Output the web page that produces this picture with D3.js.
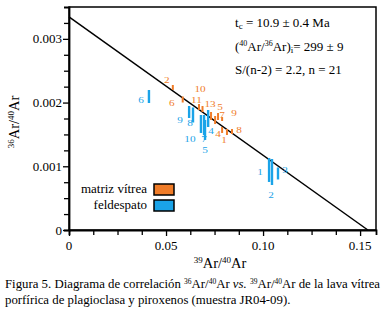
<!DOCTYPE html>
<html>
<head>
<meta charset="utf-8">
<script src="https://cdn.jsdelivr.net/npm/d3@7"></script>
<style>
  body { margin: 0; background: #fff; }
  svg text { font-family: "Liberation Serif", "Times New Roman", serif; }
</style>
</head>
<body>
<div id="chart"></div>
<script>
// Feldespato (blue), labels 1..10
const feldLabels = ['1', '2', '3', '4', '5', '6', '7', '8', '9', '10'];
const feldX = [0.1031, 0.1046, 0.1077, 0.0717, 0.0701, 0.0412, 0.0696, 0.0639, 0.0619, 0.0680];
const feldY = [0.000942, 0.000910, 0.000887, 0.001750, 0.001570, 0.002095, 0.001648, 0.001805, 0.001852, 0.001664];
const feldErr = [0.000188, 0.000204, 0.000094, 0.000133, 0.000157, 0.000102, 0.000157, 0.000118, 0.000094, 0.000141];

// Matriz vitrea (orange)
const matLabels = ['1', '2', '4', '5', '6', '7', '8', '9', '10', '11', '13'];
const matX = [0.0814, 0.0535, 0.0789, 0.0768, 0.0586, 0.0753, 0.0840, 0.0789, 0.0670, 0.0688, 0.0732];
const matY = [0.001538, 0.002237, 0.001570, 0.001781, 0.002048, 0.001726, 0.001546, 0.001742, 0.001930, 0.001899, 0.001789];
const matErr = [0.000047, 0.000039, 0.000047, 0.000055, 0.000047, 0.000063, 0.000039, 0.000031, 0.000047, 0.000047, 0.000063];

// isochron fit
const interceptY = 1 / 299;
const interceptX = 0.1540;

const xTicks = [0, 0.05, 0.10, 0.15];
const yTicks = [0, 0.001, 0.002, 0.003];

// label placement (pixels, relative to each bar centre)
const feldLabelPos = [[-9, 5], [-1, 26], [7, 0], [3, 15], [0, 23], [-8, 6], [0, 17], [-3, 11], [-9, 11], [-11, 18]];
const matLabelPos = [[-3, 11], [-6, -4], [-4, 7], [2, -7], [-11, 6], [7, -2], [7, 2], [12, -3], [1, -15], [-6, -6], [-1, -9]];

const orange = '#f07c28';
const blue = '#1aa3e8';

const width = 391, height = 316;
const margin = { top: 7, right: 15, bottom: 86, left: 69 };

const svg = d3.select('#chart').append('svg')
    .attr('width', width)
    .attr('height', height);

const x = d3.scaleLinear()
    .domain([0, 0.1582])
    .range([margin.left, width - margin.right]);

const y = d3.scaleLinear()
    .domain([0, 0.0035])
    .range([height - margin.bottom, margin.top]);

// frame
svg.append('rect')
    .attr('x', x(0))
    .attr('y', y(0.0035))
    .attr('width', x(0.1582) - x(0))
    .attr('height', y(0) - y(0.0035))
    .attr('fill', 'none')
    .attr('stroke', '#000')
    .attr('stroke-width', 1.5);

// axes
const xAxis = svg.append('g')
    .attr('transform', `translate(0,${y(0)})`)
    .call(d3.axisBottom(x)
        .tickValues(d3.range(0, 0.158, 0.0125))
        .tickSize(5)
        .tickFormat(''));
xAxis.selectAll('.tick line')
    .attr('stroke-width', 1.3)
    .attr('y2', (d, i) => i % 4 === 0 ? 6 : 5);
xAxis.select('.domain').attr('stroke-width', 1.8);

const yAxis = svg.append('g')
    .attr('transform', `translate(${x(0)},0)`)
    .call(d3.axisLeft(y)
        .tickValues(d3.range(0, 0.0035, 0.00025))
        .tickSize(5)
        .tickFormat(''));
yAxis.selectAll('.tick line')
    .attr('stroke-width', 1.3)
    .attr('x2', (d, i) => i % 4 === 0 ? -6 : -5);
yAxis.select('.domain').attr('stroke-width', 1.8);

svg.append('g').selectAll('text')
    .data(xTicks)
    .enter().append('text')
    .attr('x', d => x(d))
    .attr('y', y(0) + 20)
    .attr('text-anchor', 'middle')
    .attr('font-size', 13)
    .text(d => d === 0 ? '0' : d.toFixed(2));

svg.append('g').selectAll('text')
    .data(yTicks)
    .enter().append('text')
    .attr('x', x(0) - 7)
    .attr('y', d => y(d) + 4.5)
    .attr('text-anchor', 'end')
    .attr('font-size', 13)
    .text(d => d === 0 ? '0' : d.toFixed(3));

// axis titles
const xTitle = svg.append('text')
    .attr('x', 220)
    .attr('y', 268)
    .attr('text-anchor', 'middle')
    .attr('font-size', 14.5);
xTitle.append('tspan').attr('font-size', 9).attr('dy', -5).text('39');
xTitle.append('tspan').attr('dy', 5).text('Ar/');
xTitle.append('tspan').attr('font-size', 9).attr('dy', -5).text('40');
xTitle.append('tspan').attr('dy', 5).text('Ar');

const yTitle = svg.append('text')
    .attr('transform', 'translate(19,122) rotate(-90)')
    .attr('text-anchor', 'middle')
    .attr('font-size', 14.5);
yTitle.append('tspan').attr('font-size', 9).attr('dy', -5).text('36');
yTitle.append('tspan').attr('dy', 5).text('Ar/');
yTitle.append('tspan').attr('font-size', 9).attr('dy', -5).text('40');
yTitle.append('tspan').attr('dy', 5).text('Ar');

// isochron line
svg.append('line')
    .attr('x1', x(0))
    .attr('y1', y(interceptY))
    .attr('x2', x(interceptX))
    .attr('y2', y(0))
    .attr('stroke', '#000')
    .attr('stroke-width', 1.5);

// error bars + labels
function drawSeries(xs, ys, errs, labels, pos, color, sw) {
    const g = svg.append('g');
    const data = xs.map((v, i) => ({ x: v, y: ys[i], e: errs[i], label: labels[i], pos: pos[i] }));
    g.selectAll('line')
        .data(data)
        .enter().append('line')
        .attr('x1', d => x(d.x))
        .attr('x2', d => x(d.x))
        .attr('y1', d => y(d.y - d.e))
        .attr('y2', d => y(d.y + d.e))
        .attr('stroke', color)
        .attr('stroke-width', sw);
    g.selectAll('text')
        .data(data)
        .enter().append('text')
        .attr('transform', d => `translate(${x(d.x) + d.pos[0]},${y(d.y) + d.pos[1]}) scale(1.25,1)`)
        .attr('text-anchor', 'middle')
        .attr('font-size', 9)
        .attr('fill', color)
        .text(d => d.label);
}
drawSeries(feldX, feldY, feldErr, feldLabels, feldLabelPos, blue, 2.4);
drawSeries(matX, matY, matErr, matLabels, matLabelPos, orange, 2);

// results box
const info = svg.append('g').attr('font-size', 13);
const l1 = info.append('text').attr('x', 235).attr('y', 27);
l1.append('tspan').text('t');
l1.append('tspan').attr('font-size', 9).attr('dy', 2).text('c');
l1.append('tspan').attr('dy', -2).text(' = 10.9 \u00b1 0.4 Ma');
const l2 = info.append('text').attr('x', 235).attr('y', 51);
l2.append('tspan').text('(');
l2.append('tspan').attr('font-size', 8).attr('dy', -5).text('40');
l2.append('tspan').attr('dy', 5).text('Ar/');
l2.append('tspan').attr('font-size', 8).attr('dy', -5).text('36');
l2.append('tspan').attr('dy', 5).text('Ar)');
l2.append('tspan').attr('font-size', 9).attr('dy', 2).text('i');
l2.append('tspan').attr('dy', -2).text('= 299 \u00b1 9');
info.append('text').attr('x', 235).attr('y', 74).text('S/(n-2) = 2.2, n = 21');

// legend
const legend = svg.append('g').attr('font-size', 13);
[['matriz v\u00edtrea', orange], ['feldespato', blue]].forEach(([name, c], i) => {
    legend.append('text')
        .attr('x', 147)
        .attr('y', 193 + i * 16)
        .attr('text-anchor', 'end')
        .text(name);
    legend.append('rect')
        .attr('x', 154)
        .attr('y', 184 + i * 16)
        .attr('width', 20)
        .attr('height', 11)
        .attr('fill', c)
        .attr('stroke', '#000')
        .attr('stroke-width', 1.5);
});

// caption
const cap = svg.append('g').attr('font-size', 12.8);
const c1 = cap.append('text').attr('x', 5).attr('y', 288);
c1.append('tspan').text('Figura 5. Diagrama de correlaci\u00f3n ');
c1.append('tspan').attr('font-size', 7.5).attr('dy', -4).text('36');
c1.append('tspan').attr('dy', 4).text('Ar/');
c1.append('tspan').attr('font-size', 7.5).attr('dy', -4).text('40');
c1.append('tspan').attr('dy', 4).text('Ar ');
c1.append('tspan').attr('font-style', 'italic').text('vs.');
c1.append('tspan').text(' ');
c1.append('tspan').attr('font-size', 7.5).attr('dy', -4).text('39');
c1.append('tspan').attr('dy', 4).text('Ar/');
c1.append('tspan').attr('font-size', 7.5).attr('dy', -4).text('40');
c1.append('tspan').attr('dy', 4).text('Ar de la lava v\u00edtrea');
cap.append('text').attr('x', 5).attr('y', 304)
    .text('porf\u00edrica de plagioclasa y piroxenos (muestra JR04-09).');
</script>
</body>
</html>
